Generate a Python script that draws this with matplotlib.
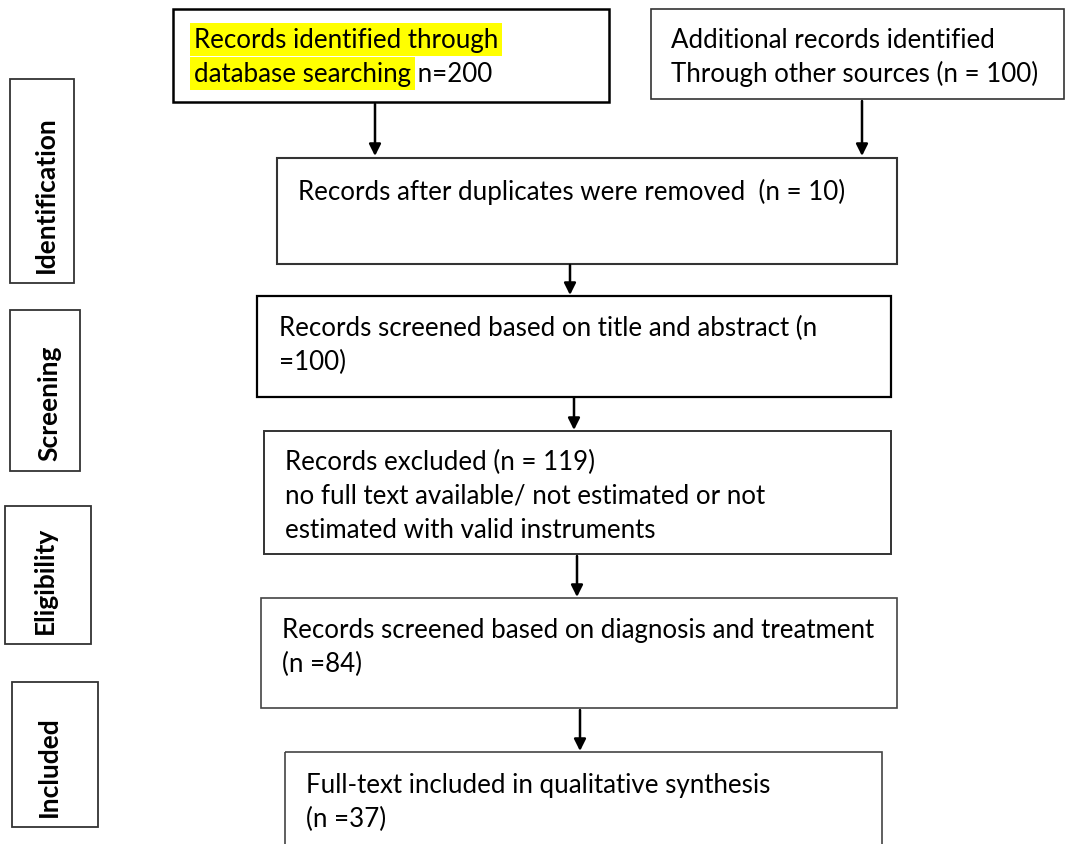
import matplotlib
matplotlib.use("Agg")
import matplotlib.pyplot as plt
from matplotlib.patches import Rectangle

plt.rcParams['font.family'] = ['Lato', 'DejaVu Sans']

# ---- content ----
stage_labels = ["Identification", "Screening", "Eligibility", "Included"]
box_lines = {
    "db": ["Records identified through", "database searching"],
    "other": ["Additional records identified", "Through other sources (n = 100)"],
    "dedup": ["Records after duplicates were removed  (n = 10)"],
    "screen": ["Records screened based on title and abstract (n", "=100)"],
    "excl": ["Records excluded (n = 119)",
             "no full text available/ not estimated or not",
             "estimated with valid instruments"],
    "elig": ["Records screened based on diagnosis and treatment", "(n =84)"],
    "incl": ["Full-text included in qualitative synthesis", "(n =37)"],
}
db_count_text = " n=200"

# ---- layout (pixel coords, y downward) ----
W, H = 1066, 845
fig = plt.figure(figsize=(W / 100, H / 100), dpi=100)
ax = fig.add_axes([0, 0, 1, 1])
ax.set_xlim(0, W)
ax.set_ylim(H, 0)
ax.axis('off')

boxes = {
    "db":     (173, 10, 609, 103, 1.8, "black"),
    "other":  (651, 10, 1064, 100, 1.2, "#333333"),
    "dedup":  (277, 159, 897, 265, 1.5, "#333333"),
    "screen": (257, 297, 891, 398, 1.6, "black"),
    "excl":   (264, 432, 891, 555, 1.4, "#333333"),
    "elig":   (261, 599, 897, 709, 1.2, "#444444"),
    "incl":   (285, 753, 882, 860, 1.2, "#444444"),
}
text_pos = {
    "db": (194, 48), "other": (671, 48), "dedup": (298, 200),
    "screen": (279, 336), "excl": (285, 470), "elig": (282, 638),
    "incl": (306, 793),
}
line_gap = 34
fs = 18.6

for key, (x0, y0, x1, y1, lw, col) in boxes.items():
    ax.add_patch(Rectangle((x0, y0), x1 - x0, y1 - y0, fill=False,
                           edgecolor=col, linewidth=lw))

for key, lines in box_lines.items():
    tx, ty = text_pos[key]
    for i, line in enumerate(lines):
        kw = {}
        if key == "db":
            kw['bbox'] = dict(boxstyle='square,pad=0.14', facecolor='#FFFF00',
                              edgecolor='none')
        t = ax.text(tx, ty + i * line_gap, line, fontsize=fs, va='baseline',
                    ha='left', color='black', **kw)
        if key == "db" and i == 1:
            ax.annotate(db_count_text, xy=(1, 0), xycoords=t,
                        xytext=(0, 0), textcoords='offset points',
                        fontsize=fs, va='bottom', ha='left')

# arrows
arrows = [(375, 105, 157), (862, 102, 157), (570, 266, 296),
          (574, 399, 431), (577, 557, 598), (580, 711, 752)]
for x, ya, yb in arrows:
    ax.annotate("", xy=(x, yb), xytext=(x, ya),
                arrowprops=dict(arrowstyle='-|>,head_length=0.7,head_width=0.35',
                                color='black', lw=1.8, shrinkA=0, shrinkB=0))

# stage side boxes
side = [(10, 80, 74, 284), (10, 311, 80, 472), (5, 507, 91, 645), (12, 683, 98, 828)]
label_x = [46, 49, 45, 49]
for label, (x0, y0, x1, y1), lx in zip(stage_labels, side, label_x):
    ax.add_patch(Rectangle((x0, y0), x1 - x0, y1 - y0, fill=False,
                           edgecolor='#333333', linewidth=1.3))
    ax.text(lx, y1 - 11, label, rotation=90, fontsize=19,
            fontweight='bold', ha='center', va='bottom', color='black')

fig.savefig("out.png", dpi=100)
